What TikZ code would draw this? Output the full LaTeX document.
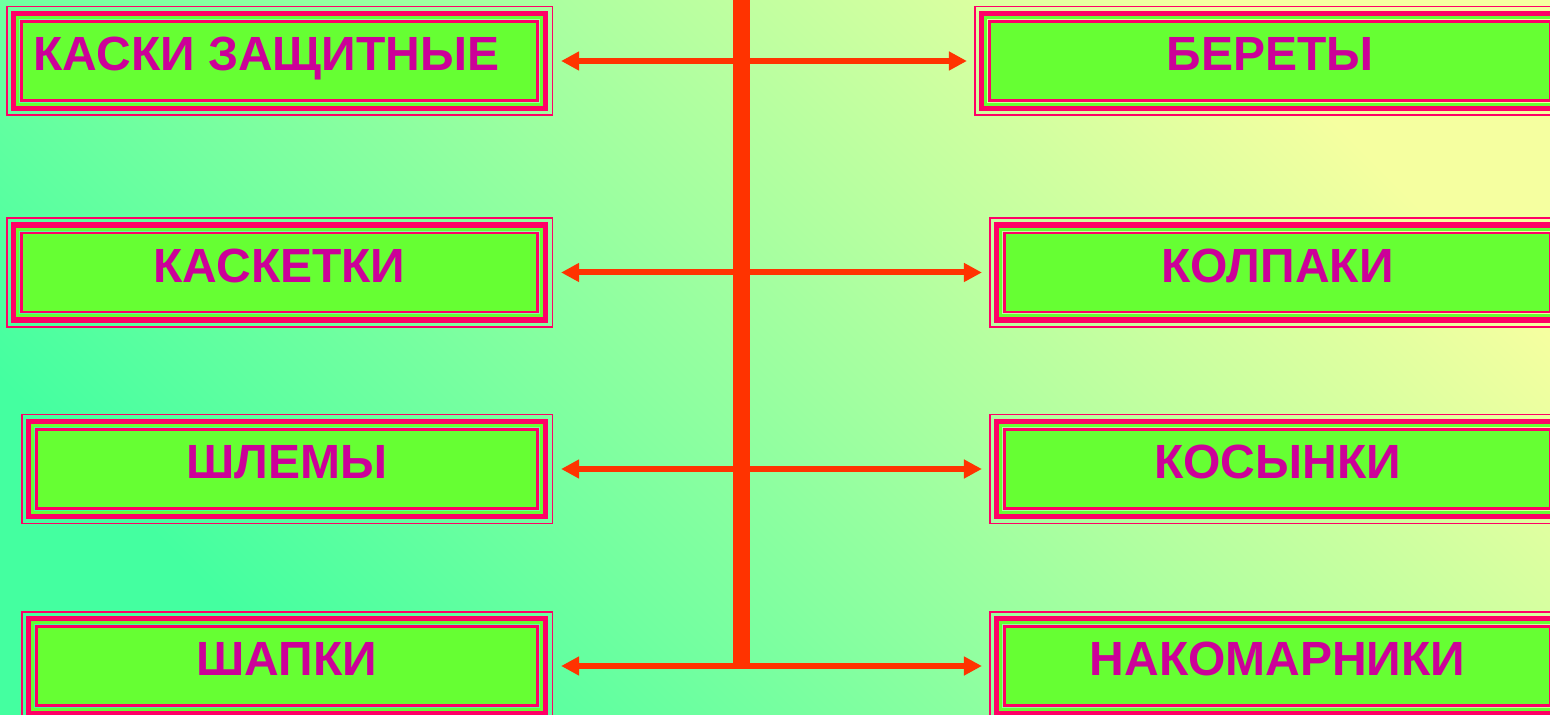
\documentclass[tikz,border=0pt]{standalone}
\usepackage{fontspec}
\setmainfont{Liberation Sans}
\usetikzlibrary{calc, arrows.meta}
\definecolor{fonl}{HTML}{44FFA0}
\definecolor{fonr}{HTML}{F5FFA0}
\definecolor{zelen}{HTML}{66FF33}
\definecolor{krasn}{HTML}{FF0066}
\definecolor{tekst}{HTML}{CC0099}
\definecolor{strel}{HTML}{FF3300}

\begin{document}
\begin{tikzpicture}[x=0.5pt, y=-0.5pt,
    ramka/.style={draw=krasn, line width=1.1pt, fill=zelen, minimum width=#1,
      minimum height=39.5pt, inner sep=0pt, text=tekst,
      font=\bfseries\fontsize{24}{24}\selectfont, text height=17.2pt, text depth=7.5pt},
    strelka/.style={draw=strel, line width=3pt,
      {Triangle[length=9pt,width=9pt]}-{Triangle[length=9pt,width=9pt]}}]
  \useasboundingbox (0,0) rectangle (1550,715);
  \clip (0,0) rectangle (1550,715);
  \shade[left color=fonl, right color=fonr, shading angle=135] (0,0) rectangle (1550,715);
  % vidy golovnyh uborov
  \node[ramka=258pt] (kaski) at (279.5,61) {КАСКИ ЗАЩИТНЫЕ\kern13pt};
  \node[ramka=258pt] (kasketki) at (279.5,272.5) {КАСКЕТКИ};
  \node[ramka=250.5pt] (shlemy) at (287,469) {ШЛЕМЫ};
  \node[ramka=250.5pt] (shapki) at (287,666) {ШАПКИ};
  \node[ramka=280.5pt] (berety) at (1270,61) {БЕРЕТЫ};
  \node[ramka=273pt] (kolpaki) at (1277.5,272.5) {КОЛПАКИ};
  \node[ramka=273pt] (kosynki) at (1277.5,469) {КОСЫНКИ};
  \node[ramka=273pt] (nakomarniki) at (1277.5,666) {НАКОМАРНИКИ};
  % ramki
  \foreach \n in {kaski,kasketki,shlemy,shapki,berety,kolpaki,kosynki,nakomarniki} {
    \draw[zelen, line width=4.275pt] ($(\n.north west)+(-5.475,-5.475)$) rectangle ($(\n.south east)+(5.475,5.475)$);
    \draw[krasn, line width=2.75pt] ($(\n.north west)+(-7,-7)$) rectangle ($(\n.south east)+(7,7)$);
    \draw[krasn, line width=0.8pt] ($(\n.north west)+(-13.7,-13.7)$) rectangle ($(\n.south east)+(13.7,13.7)$);
  }
  % stvol i strelki
  \coordinate (verh) at (741.5,0);
  \draw[strel, line width=8.5pt] (verh) -- (verh |- shapki.east);
  \foreach \a/\b in {kaski/berety, kasketki/kolpaki, shlemy/kosynki, shapki/nakomarniki}
    \draw[strelka] ($(\a.east)+(22.5,0)$) -- ($(\b.west)+(-21.5,0)$);
\end{tikzpicture}
\end{document}
